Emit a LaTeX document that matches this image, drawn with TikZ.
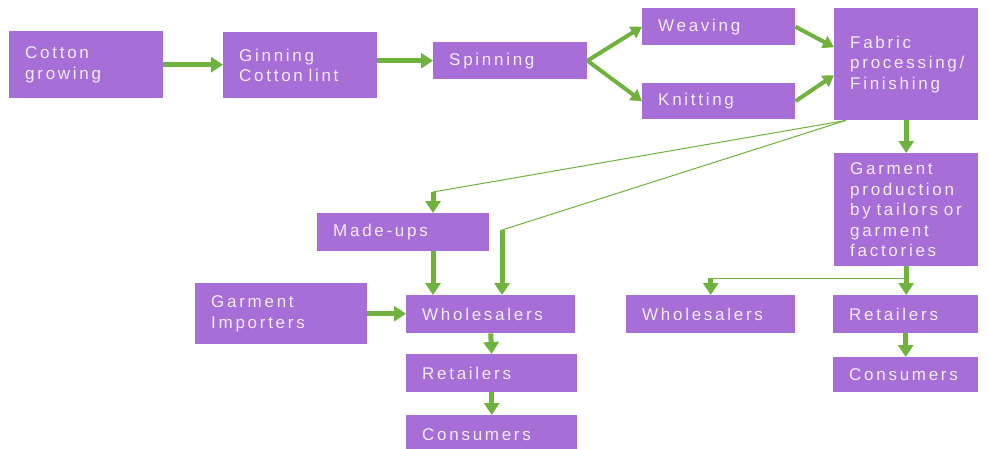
\documentclass[tikz,border=0pt]{standalone}
\usepackage{fontspec}
\setmainfont{Liberation Sans}[LetterSpace=16,WordSpace=1.8]
\usetikzlibrary{arrows.meta,calc}
\definecolor{boxpurple}{RGB}{166,110,214}
\definecolor{flowgreen}{RGB}{112,178,62}
\definecolor{boxtext}{RGB}{244,236,250}

\begin{document}
\begin{tikzpicture}[x=1pt,y=-1pt,
    stage/.style={fill=boxpurple,text=boxtext,anchor=north west,inner xsep=0pt,inner ysep=0pt,
      align=left,font=\fontsize{17}{20.5}\selectfont,execute at begin node={\leftskip=16pt}},
    flow/.style={draw=flowgreen,line width=5pt,-{Triangle[width=15pt,length=12pt]}},
    slant/.style={flow,line width=4pt,-{Triangle[width=13pt,length=11pt]}},
    link/.style={draw=flowgreen,line width=1pt}]
    \useasboundingbox (0,0) rectangle (987,448);
    \node[stage,text width=154pt,minimum height=67pt]  (grow)  at (9,31)    {Cotton\\growing};
    \node[stage,text width=154pt,minimum height=66pt]  (gin)   at (223,32)  {Ginning\\Cotton~lint};
    \node[stage,text width=154pt,minimum height=37pt]  (spin)  at (433,42)  {Spinning};
    \node[stage,text width=153pt,minimum height=37pt]  (weave) at (642,8)   {Weaving};
    \node[stage,text width=153pt,minimum height=36pt]  (knit)  at (642,83)  {Knitting};
    \node[stage,text width=144pt,minimum height=112pt] (fab)   at (834,8)   {Fabric\\processing/\\Finishing};
    \node[stage,text width=144pt,minimum height=113pt] (gprod) at (834,153) {Garment\\production\\by~tailors~or\\garment\\factories};
    \node[stage,text width=172pt,minimum height=38pt]  (mkup)  at (317,213) {Made-ups};
    \node[stage,text width=172pt,minimum height=61pt]  (imp)   at (195,283) {Garment\\Importers};
    \node[stage,text width=169pt,minimum height=38pt]  (wsL)   at (406,295) {Wholesalers};
    \node[stage,text width=171pt,minimum height=38pt]  (rtL)   at (406,354) {Retailers};
    \node[stage,text width=171pt,minimum height=38pt]  (csL)   at (406,415) {Consumers};
    \node[stage,text width=169pt,minimum height=38pt]  (wsR)   at (626,295) {Wholesalers};
    \node[stage,text width=145pt,minimum height=38pt]  (rtR)   at (833,295) {Retailers};
    \node[stage,text width=145pt,minimum height=35pt]  (csR)   at (833,357) {Consumers};

    \coordinate (split)  at ($(fab.south west)+(12,0)$);
    \coordinate (mkbend) at (433,192);
    \coordinate (wsbend) at (502,230);
    \coordinate (fork)   at ($(gprod.south)+(0,12)$);

    \draw[flow]  (grow.east) -- (grow.east -| gin.west);
    \draw[flow]  (gin.east |- spin.west) -- (spin.west);
    \draw[slant] (spin.east) -- (weave.west);
    \draw[slant] (spin.east) -- (knit.west);
    \draw[slant] (weave.east) -- ($(fab.west)+(0,-17)$);
    \draw[slant] (knit.east) -- ($(fab.west)+(0,11)$);
    \draw[flow]  (fab.south) -- (gprod.north);
    \draw[link]  (split) -- (mkbend);
    \draw[link]  (split) -- (wsbend);
    \draw[flow]  (mkbend) -- (mkup.north -| mkbend);
    \draw[flow]  (wsbend) -- (wsL.north -| wsbend);
    \draw[flow]  (mkup.south -| mkbend) -- (wsL.north -| mkbend);
    \draw[flow]  (imp.east) -- (imp.east -| wsL.west);
    \draw[flow]  (wsL.south) -- (rtL.north);
    \draw[flow]  (rtL.south) -- (csL.north);
    \draw[flow]  (gprod.south) -- (gprod.south |- rtR.north);
    \draw[link]  (fork) -- (fork -| wsR.north);
    \draw[flow]  (fork -| wsR.north) -- (wsR.north);
    \draw[flow]  (rtR.south) -- (csR.north);
\end{tikzpicture}
\end{document}
